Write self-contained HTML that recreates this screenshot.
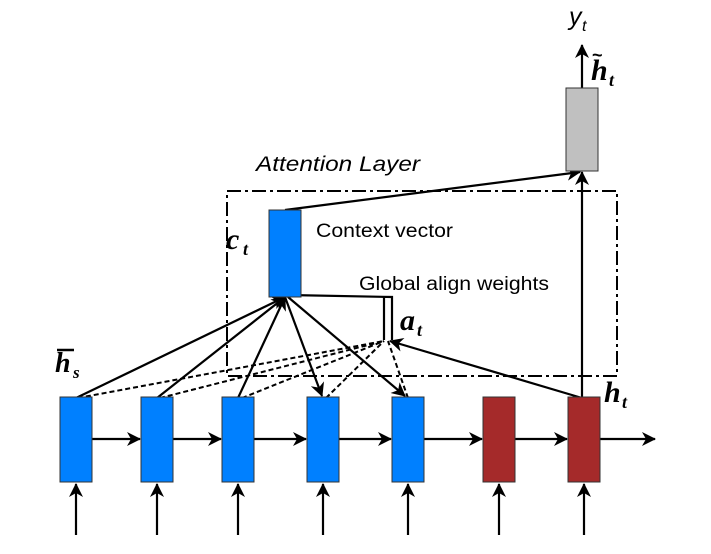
<!DOCTYPE html>
<html><head><style>
body{margin:0;background:#fff;width:711px;height:549px;overflow:hidden}
text{font-family:"Liberation Sans",sans-serif}
.m{font-family:"Liberation Serif",serif;font-weight:bold;font-style:italic}
</style></head><body>
<svg width="711" height="549" viewBox="0 0 711 549">
<defs>
<marker id="a" markerWidth="14" markerHeight="14" refX="13" refY="7" orient="auto" markerUnits="userSpaceOnUse">
<path d="M0,0 L14,7 L0,14 L4,7 z" fill="#000"/></marker>
</defs>
<rect x="227" y="191" width="390" height="185" fill="none" stroke="#000" stroke-width="2" stroke-dasharray="14,4,3,4"/>
<text x="256" y="171" font-size="21" font-style="italic" textLength="164" lengthAdjust="spacingAndGlyphs">Attention Layer</text>
<text x="316" y="237" font-size="19" textLength="137" lengthAdjust="spacingAndGlyphs">Context vector</text>
<text x="359" y="290" font-size="19" textLength="190" lengthAdjust="spacingAndGlyphs">Global align weights</text>
<g stroke="#000" stroke-width="2" stroke-dasharray="5,3" fill="none">
<line x1="78" y1="398" x2="384" y2="341"/>
<line x1="160" y1="398" x2="384" y2="341"/>
<line x1="242" y1="398" x2="384" y2="341"/>
<line x1="326" y1="398" x2="384" y2="341"/>
<line x1="408" y1="398" x2="388" y2="341"/>
</g>
<g stroke="#000" stroke-width="2.2" fill="none">
<line x1="76" y1="398" x2="285" y2="297" marker-end="url(#a)"/>
<line x1="157" y1="398" x2="285" y2="297" marker-end="url(#a)"/>
<line x1="238" y1="398" x2="285" y2="297" marker-end="url(#a)"/>
<line x1="285" y1="297" x2="322" y2="396" marker-end="url(#a)"/>
<line x1="288" y1="297" x2="405" y2="396" marker-end="url(#a)"/>
<polyline points="288,295 392,297 392,340"/>
<line x1="384" y1="297" x2="384" y2="340"/>
<line x1="582" y1="398" x2="390" y2="341" marker-end="url(#a)"/>
<line x1="582" y1="398" x2="582" y2="172" marker-end="url(#a)"/>
<line x1="285" y1="210" x2="580" y2="172" marker-end="url(#a)"/>
<line x1="582" y1="88" x2="582" y2="45" marker-end="url(#a)"/>
</g>
<rect x="269" y="210" width="32" height="87" fill="#0080ff" stroke="#333" stroke-width="1"/>
<rect x="566" y="88" width="32" height="83" fill="#c0c0c0" stroke="#333" stroke-width="1"/>
<g stroke="#000" stroke-width="2.2">
<line x1="92" y1="439" x2="140" y2="439" marker-end="url(#a)"/>
<line x1="173" y1="439" x2="221" y2="439" marker-end="url(#a)"/>
<line x1="254" y1="439" x2="306" y2="439" marker-end="url(#a)"/>
<line x1="339" y1="439" x2="391" y2="439" marker-end="url(#a)"/>
<line x1="424" y1="439" x2="482" y2="439" marker-end="url(#a)"/>
<line x1="515" y1="439" x2="567" y2="439" marker-end="url(#a)"/>
<line x1="600" y1="439" x2="655" y2="439" marker-end="url(#a)"/>
<line x1="76" y1="535" x2="76" y2="484" marker-end="url(#a)"/>
<line x1="157" y1="535" x2="157" y2="484" marker-end="url(#a)"/>
<line x1="238" y1="535" x2="238" y2="484" marker-end="url(#a)"/>
<line x1="323" y1="535" x2="323" y2="484" marker-end="url(#a)"/>
<line x1="408" y1="535" x2="408" y2="484" marker-end="url(#a)"/>
<line x1="499" y1="535" x2="499" y2="484" marker-end="url(#a)"/>
<line x1="584" y1="535" x2="584" y2="484" marker-end="url(#a)"/>
</g>
<g stroke="#333" stroke-width="1">
<rect x="60" y="397" width="32" height="85" fill="#0080ff"/>
<rect x="141" y="397" width="32" height="85" fill="#0080ff"/>
<rect x="222" y="397" width="32" height="85" fill="#0080ff"/>
<rect x="307" y="397" width="32" height="85" fill="#0080ff"/>
<rect x="392" y="397" width="32" height="85" fill="#0080ff"/>
<rect x="483" y="397" width="32" height="85" fill="#a52a2a"/>
<rect x="568" y="397" width="32" height="85" fill="#a52a2a"/>
</g>
<line x1="57" y1="350" x2="74" y2="350" stroke="#000" stroke-width="2.5"/>
<text class="m" x="55" y="372" font-size="28">h</text><text class="m" x="73" y="378" font-size="17" font-weight="normal">s</text>
<text class="m" x="226" y="249" font-size="30">c</text><text class="m" x="243" y="255" font-size="18" font-weight="normal">t</text>
<text class="m" x="400" y="330" font-size="30">a</text><text class="m" x="417" y="336" font-size="18" font-weight="normal">t</text>
<text class="m" x="604" y="402" font-size="30">h</text><text class="m" x="622" y="408" font-size="18" font-weight="normal">t</text>
<text class="m" x="591" y="80" font-size="30">h</text><text x="592" y="61" font-size="18" font-weight="bold">~</text><text class="m" x="609" y="86" font-size="18" font-weight="normal">t</text>
<text x="569" y="25" font-size="25" font-style="italic" font-family="Liberation Serif">y</text><text x="582" y="31" font-size="16" font-style="italic" font-family="Liberation Serif">t</text>
</svg>
</body></html>
